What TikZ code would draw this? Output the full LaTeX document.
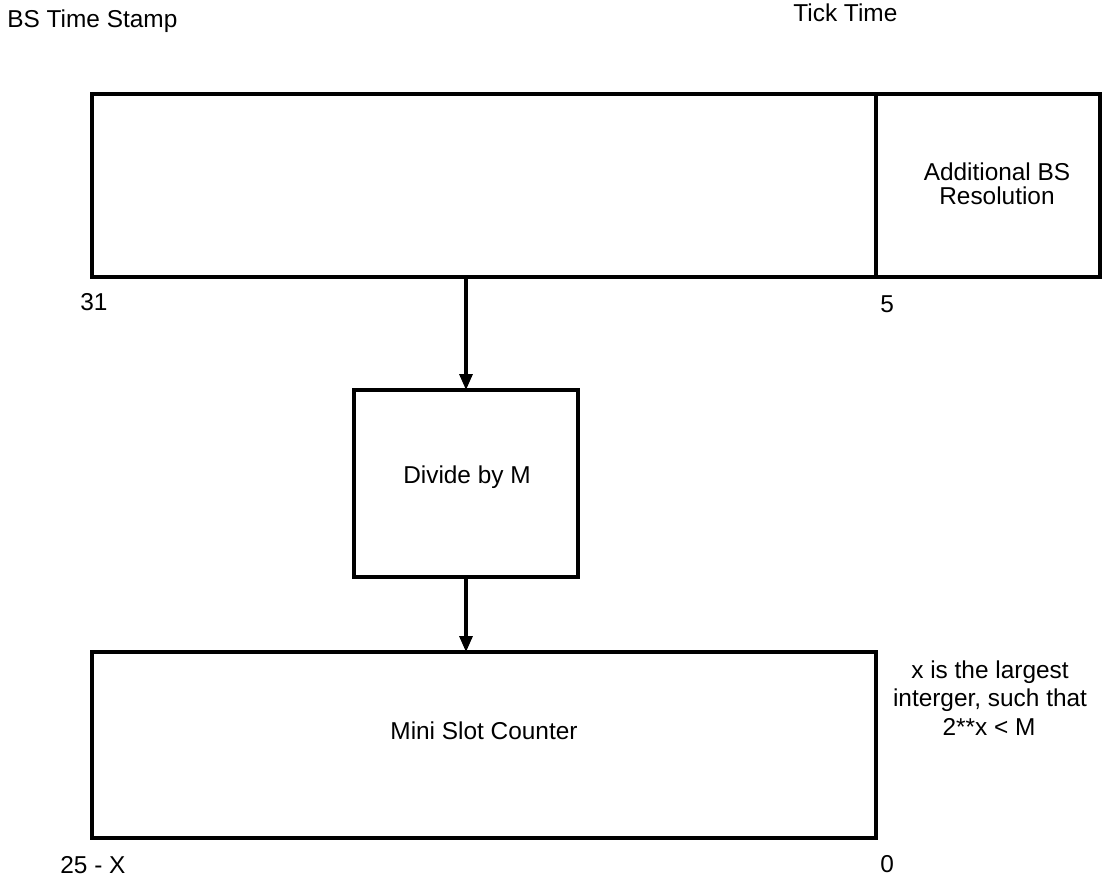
\documentclass[tikz,border=0pt]{standalone}
\usepackage{fontspec}
\setmainfont{Liberation Sans}
\usetikzlibrary{arrows.meta}
\begin{document}
\begin{tikzpicture}[x=0.5pt,y=-0.5pt,
  box/.style={draw,line width=1.6pt,inner sep=0pt,outer sep=0pt,anchor=north west},
  lbl/.style={anchor=base,inner sep=0pt,font=\fontsize{12.2pt}{14pt}\selectfont},
  lblw/.style={anchor=base west,inner sep=0pt,font=\fontsize{12.2pt}{14pt}\selectfont},
  arr/.style={line width=1.6pt,-{Triangle[length=8pt,width=6.5pt]}}]
\useasboundingbox (0,0) rectangle (1103,879);
% boxes
\node[box,minimum width=392pt,minimum height=91.5pt] (ts) at (92,94) {};
\node[box,minimum width=112pt,minimum height=91.5pt] (res) at (876,94) {};
\node[box,minimum width=112pt,minimum height=93.5pt] (div) at (354,390) {};
\node[box,minimum width=392pt,minimum height=93pt] (mini) at (92,652) {};
% arrows
\draw[arr] (ts.south -| div.north) -- (div.north);
\draw[arr] (div.south) -- (mini.north -| div.south);
% labels
\node[lblw] (t1) at (7,27) {BS Time Stamp};
\node[lblw] (t2) at (793,21) {Tick Time};
\node[lbl] (r1) at (997,180) {Additional BS};
\node[lbl] (r2) at (997,204) {Resolution};
\node[lbl] (d) at (467,483) {Divide by M};
\node[lbl] (m) at (484,739) {Mini Slot Counter};
\node[lblw] (n31) at (80,310) {31};
\node[lblw] (n5) at (880,312) {5};
\node[lblw] (n25) at (60,873) {25 - X};
\node[lblw] (n0) at (880,872) {0};
\node[lbl] (x1) at (990,678) {x is the largest};
\node[lbl] (x2) at (990,706) {interger, such that};
\node[lbl] (x3) at (989,735) {2**x < M};
\end{tikzpicture}
\end{document}
